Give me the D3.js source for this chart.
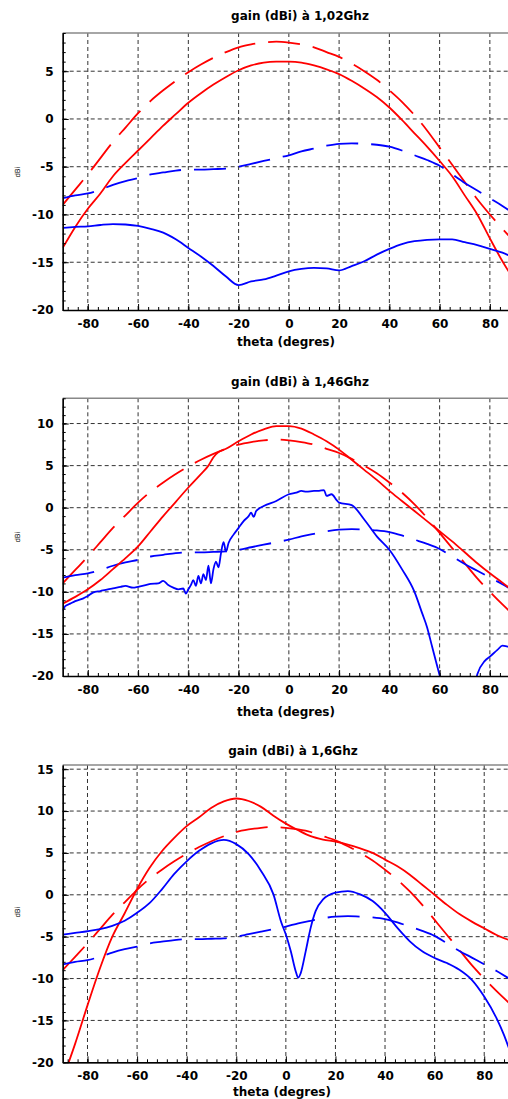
<!DOCTYPE html>
<html><head><meta charset="utf-8">
<script src="https://cdn.jsdelivr.net/npm/d3@7"></script>
<style>body{margin:0;background:#fff;} svg{display:block;font-family:"DejaVu Sans",sans-serif;}</style>
</head><body><svg id="c" width="508" height="1099"></svg>
<script>
// ---------- data ----------
const titles = ["gain (dBi) à 1,02Ghz", "gain (dBi) à 1,46Ghz", "gain (dBi) à 1,6Ghz"];
const xLabel = "theta (degres)";
const yLabel = "dBi";
const xTicks = [-80, -60, -40, -20, 0, 20, 40, 60, 80];
const yTicks1 = [-20, -15, -10, -5, 0, 5];
const yTicks2 = [-20, -15, -10, -5, 0, 5, 10];
const yTicks3 = [-20, -15, -10, -5, 0, 5, 10, 15];

const theta = [-90,-85,-80,-75,-70,-65,-60,-55,-50,-45,-40,-35,-30,-25,-20,-15,-10,-5,0,5,10,15,20,25,30,35,40,45,50,55,60,65,70,75,80,85,90];

// reference curves (dashed), same in all three plots
const redRef  = [-9.0,-7.4,-5.8,-4.1,-2.4,-0.9,0.6,1.9,3.0,4.0,4.9,5.7,6.4,7.0,7.5,7.8,8.0,8.1,8.0,7.8,7.5,7.0,6.5,5.8,5.0,4.1,3.0,1.8,0.4,-1.2,-3.0,-4.8,-6.6,-8.4,-10.0,-11.5,-12.9];
const blueRef = [-8.3,-8.0,-7.8,-7.4,-6.9,-6.5,-6.2,-5.8,-5.6,-5.4,-5.3,-5.3,-5.25,-5.2,-5.0,-4.7,-4.4,-4.1,-3.8,-3.4,-3.1,-2.8,-2.6,-2.55,-2.6,-2.7,-2.9,-3.3,-3.8,-4.3,-4.9,-5.8,-6.7,-7.5,-8.3,-9.1,-10.0];

// 1,02 GHz
const red102  = [-13.5,-11.3,-9.4,-7.8,-6.0,-4.6,-3.3,-2.0,-0.7,0.5,1.7,2.7,3.6,4.4,5.1,5.6,5.9,6.0,6.0,5.9,5.6,5.2,4.7,4.0,3.2,2.3,1.2,-0.1,-1.5,-2.9,-4.4,-6.0,-8.0,-10.0,-12.5,-14.9,-17.0];
const blue102 = [-11.4,-11.3,-11.25,-11.1,-11.0,-11.05,-11.2,-11.5,-11.9,-12.6,-13.5,-14.4,-15.4,-16.5,-17.4,-17.0,-16.8,-16.4,-15.95,-15.7,-15.6,-15.65,-15.85,-15.4,-14.9,-14.2,-13.6,-13.1,-12.8,-12.65,-12.6,-12.6,-12.9,-13.2,-13.6,-14.0,-14.6];

// 1,46 GHz
const thetaRed146 = [-90,-85,-80,-75,-70,-65,-60,-55,-50,-45,-40,-35,-32,-30,-28,-25,-20,-15,-10,-5,0,5,10,15,20,25,30,35,40,45,50,55,60,65,70,75,80,85,90];
const red146      = [-11.4,-10.6,-9.7,-8.6,-7.3,-6.0,-4.6,-2.8,-1.0,0.7,2.4,4.0,5.0,6.0,6.6,7.0,7.9,8.7,9.3,9.7,9.7,9.4,8.7,7.9,6.9,5.7,4.5,3.3,2.0,0.8,-0.4,-1.6,-2.8,-4.0,-5.3,-6.6,-7.8,-8.9,-10.1];
const thetaBlue146 = [-90,-89,-87,-85,-82,-80,-78,-75,-72,-70,-67,-65,-62,-60,-57,-55,-52,-50,-48,-46,-44,-42,-41,-40,-39,-38,-37,-36,-35,-34,-33,-32,-31,-30,-29,-28,-27,-26,-25,-24,-22,-20,-18,-16,-15,-14,-13,-10,-5,0,3,5,7,10,12,14,15,17,19,20,25,30,35,40,45,50,53,55,57,60,62,65,70,73,75,78,80,83,85,87,90];
const blue146      = [-12.3,-11.7,-11.4,-11.1,-10.8,-10.5,-10.1,-9.9,-9.7,-9.6,-9.4,-9.3,-9.5,-9.4,-9.2,-9.05,-9.0,-8.7,-9.2,-9.5,-9.7,-9.6,-10.2,-9.7,-9.2,-8.6,-9.3,-8.1,-9.0,-7.9,-8.6,-6.9,-9.0,-7.3,-6.4,-7.1,-5.4,-4.1,-5.2,-4.2,-3.2,-2.4,-1.6,-1.0,-0.6,-1.1,-0.4,0.2,0.8,1.6,1.8,2.0,1.9,2.0,2.0,2.1,1.4,1.6,0.9,0.6,0.3,-1.4,-3.4,-5.0,-7.3,-10.0,-12.5,-14.2,-16.5,-19.9,-22.0,-24.0,-25.0,-22.5,-19.8,-18.2,-17.7,-16.9,-16.4,-16.5,-16.6];

// 1,6 GHz
const red16  = [-22.0,-17.8,-13.2,-8.8,-5.0,-2.2,0.7,3.2,5.2,6.8,8.2,9.25,10.4,11.15,11.5,11.2,10.5,9.45,8.5,7.7,7.0,6.6,6.35,6.0,5.55,5.0,4.2,3.4,2.4,1.2,0.0,-1.2,-2.3,-3.2,-4.0,-4.8,-5.4];
const thetaBlue16 = [-90,-85,-80,-75,-70,-65,-60,-55,-50,-45,-40,-35,-30,-25,-20,-15,-10,-5,-2,0,2,4,5,6,8,10,12,15,20,25,30,35,40,45,50,55,60,65,70,75,80,85,88,90];
const blue16      = [-4.75,-4.55,-4.35,-4.1,-3.7,-3.1,-2.15,-1.0,0.65,2.5,4.0,5.25,6.15,6.55,6.05,4.85,2.85,0.05,-3.15,-4.75,-6.75,-9.15,-9.9,-9.35,-6.75,-3.95,-1.95,-0.55,0.25,0.45,0.05,-0.75,-2.15,-3.95,-5.55,-6.75,-7.55,-8.15,-8.95,-10.15,-12.15,-14.75,-16.75,-18.35];

// ---------- layout (positions / styles) ----------
const layout = [
  {top:33,    bottom:310,    left:62.7, right:515, ymax:9,    yTicks:yTicks1, titleX:300, titleY:19.5, xlabX:286, xlabY:345.5, ylabY:172},
  {top:398.3, bottom:676,    left:62.7, right:515, ymax:13,   yTicks:yTicks2, titleX:300, titleY:386,  xlabX:286, xlabY:715.5, ylabY:537},
  {top:765,   bottom:1062.3, left:62.7, right:509, ymax:15.5, yTicks:yTicks3, titleX:293, titleY:754.5,xlabX:282, xlabY:1096, ylabY:912}
];
const series = [
  [{t:theta,v:redRef,c:"#ff0000",d:true},{t:theta,v:blueRef,c:"#0000ff",d:true},{t:theta,v:red102,c:"#ff0000"},{t:theta,v:blue102,c:"#0000ff"}],
  [{t:theta,v:redRef,c:"#ff0000",d:true},{t:theta,v:blueRef,c:"#0000ff",d:true},{t:thetaRed146,v:red146,c:"#ff0000"},{t:thetaBlue146,v:blue146,c:"#0000ff"}],
  [{t:theta,v:redRef,c:"#ff0000",d:true},{t:theta,v:blueRef,c:"#0000ff",d:true},{t:theta,v:red16,c:"#ff0000"},{t:thetaBlue16,v:blue16,c:"#0000ff"}]
];

const svg = d3.select("#c");
const W = 508;

layout.forEach((L, i) => {
  const x = d3.scaleLinear().domain([-90, 90]).range([L.left, L.right]);
  const y = d3.scaleLinear().domain([-20, L.ymax]).range([L.bottom, L.top]);
  const g = svg.append("g");
  const cid = "clip" + i;
  svg.append("clipPath").attr("id", cid).append("rect")
    .attr("x", L.left).attr("y", L.top).attr("width", W - L.left).attr("height", L.bottom - L.top);

  // grid
  g.append("g").selectAll("line").data(L.yTicks.filter(v => v > -20)).join("line")
    .attr("x1", L.left).attr("x2", W).attr("y1", d => y(d)).attr("y2", d => y(d))
    .attr("stroke", "#333").attr("stroke-width", 1).attr("stroke-dasharray", "4,3");
  g.append("g").selectAll("line").data(xTicks).join("line")
    .attr("x1", d => x(d)).attr("x2", d => x(d)).attr("y1", L.top).attr("y2", L.bottom)
    .attr("stroke", "#333").attr("stroke-width", 1).attr("stroke-dasharray", "4,3");

  // top border
  g.append("line").attr("x1", L.left).attr("x2", W).attr("y1", L.top).attr("y2", L.top)
    .attr("stroke", "#888").attr("stroke-width", 1.5);

  // curves
  const line = d3.line().x(d => x(d[0])).y(d => y(d[1])).curve(d3.curveMonotoneX);
  const cg = g.append("g").attr("clip-path", `url(#${cid})`);
  series[i].forEach(s => {
    const pts = s.t.map((t, k) => [t, s.v[k]]);
    cg.append("path").attr("d", line(pts)).attr("fill", "none")
      .attr("stroke", s.c).attr("stroke-width", 1.8)
      .attr("stroke-dasharray", s.d ? "32,13" : null);
  });

  // axes
  const minorY = d3.range(-20, L.ymax + 0.001, 1);
  const minorX = d3.range(-88, 90, 4);
  g.append("g").attr("transform", `translate(${L.left},0)`)
    .call(d3.axisLeft(y).tickValues(minorY).tickSizeInner(-3).tickSizeOuter(0).tickFormat(""))
    .call(a => a.selectAll("line").attr("stroke", "#000"));
  g.append("g").attr("transform", `translate(0,${L.bottom})`)
    .call(d3.axisBottom(x).tickValues(minorX).tickSizeInner(-3).tickSizeOuter(0).tickFormat(""))
    .call(a => a.selectAll("line").attr("stroke", "#000"));
  const ya = g.append("g").attr("transform", `translate(${L.left},0)`)
    .call(d3.axisLeft(y).tickValues(L.yTicks).tickSizeInner(-6).tickSizeOuter(0).tickPadding(9).tickFormat(d => String(d)));
  const xa = g.append("g").attr("transform", `translate(0,${L.bottom})`)
    .call(d3.axisBottom(x).tickValues(xTicks).tickSizeInner(-6).tickSizeOuter(0).tickPadding(9).tickFormat(d => String(d)));
  [ya, xa].forEach(a => {
    a.select(".domain").attr("stroke", "#000").attr("stroke-width", 1.5);
    a.selectAll("text").attr("font-size", 12).attr("font-weight", "bold").attr("fill", "#000").attr("font-family", "DejaVu Sans");
  });

  // labels
  svg.append("text").attr("x", L.titleX).attr("y", L.titleY).attr("text-anchor", "middle")
    .attr("font-size", 12).attr("font-weight", "bold").attr("fill", "#000").text(titles[i]);
  svg.append("text").attr("x", L.xlabX).attr("y", L.xlabY).attr("text-anchor", "middle")
    .attr("font-size", 12).attr("font-weight", "bold").attr("fill", "#000").text(xLabel);
  svg.append("text").attr("transform", `translate(20,${L.ylabY}) rotate(-90)`).attr("text-anchor", "middle")
    .attr("font-size", 7).attr("fill", "#000").text(yLabel);
});
</script></body></html>
